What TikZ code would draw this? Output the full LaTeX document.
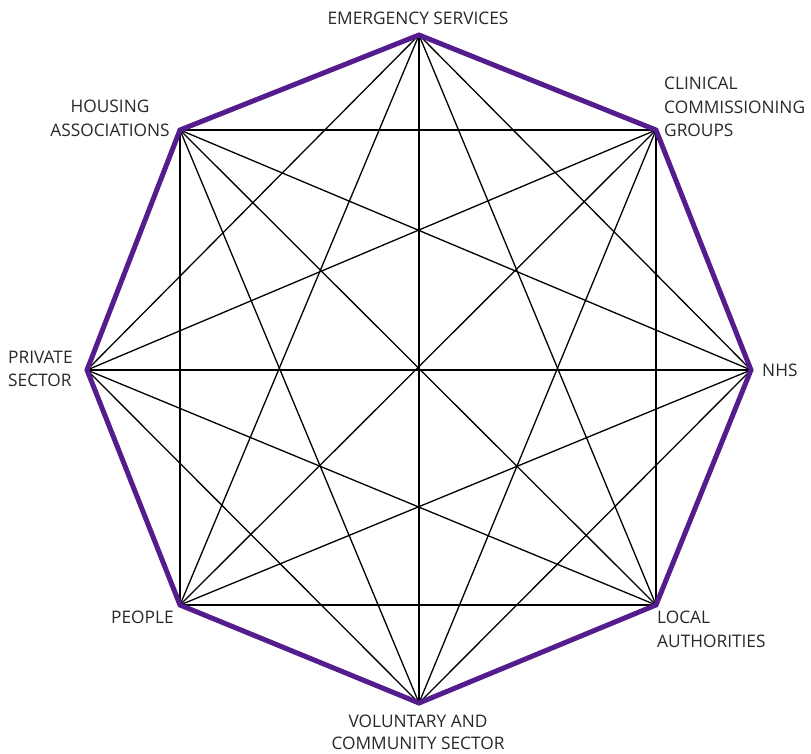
\documentclass[tikz,border=0pt]{standalone}
\usepackage{fontspec}
\setmainfont{Open Sans}
\definecolor{octpurple}{RGB}{84,28,140}
\definecolor{labelgray}{RGB}{40,40,40}
\begin{document}
\begin{tikzpicture}[x=1pt,y=-1pt,
  edge/.style={black,line width=1.3pt},
  rim/.style={octpurple,line width=5pt,line join=miter},
  lbl/.style={inner sep=0pt,text=labelgray,font=\fontsize{17.3}{17.3}\selectfont}]
\useasboundingbox (0,0) rectangle (811,754);
\coordinate (v1) at (419,35);
\coordinate (v2) at (656,130);
\coordinate (v3) at (751,370);
\coordinate (v4) at (656,605);
\coordinate (v5) at (419,703);
\coordinate (v6) at (180,605);
\coordinate (v7) at (87,370);
\coordinate (v8) at (180,130);
\foreach \i in {1,...,8}{
  \foreach \j in {1,...,8}{
    \ifnum\i<\j \draw[edge] (v\i) -- (v\j); \fi
  }
}
\draw[rim] (v1) -- (v2) -- (v3) -- (v4) -- (v5) -- (v6) -- (v7) -- (v8) -- cycle;
\node[lbl,anchor=base] (es) at (418,25) {EMERGENCY SERVICES};
\node[lbl,anchor=base west] (cc1) at (664,90) {CLINICAL};
\node[lbl,anchor=base west] (cc2) at (664,114) {COMMISSIONING};
\node[lbl,anchor=base west] (cc3) at (664,137) {GROUPS};
\node[lbl,anchor=base] (ha1) at (110,113) {HOUSING};
\node[lbl,anchor=base] (ha2) at (110,137) {ASSOCIATIONS};
\node[lbl,anchor=base west] (ps1) at (8,363) {PRIVATE};
\node[lbl,anchor=base west] (ps2) at (8,386) {SECTOR};
\node[lbl,anchor=base west] (nhs) at (762,376) {NHS};
\node[lbl,anchor=base west] (pp) at (111,623) {PEOPLE};
\node[lbl,anchor=base west] (la1) at (657,623) {LOCAL};
\node[lbl,anchor=base west] (la2) at (657,647) {AUTHORITIES};
\node[lbl,anchor=base] (vc1) at (418,727) {VOLUNTARY AND};
\node[lbl,anchor=base] (vc2) at (418,749) {COMMUNITY SECTOR};
\end{tikzpicture}
\end{document}
